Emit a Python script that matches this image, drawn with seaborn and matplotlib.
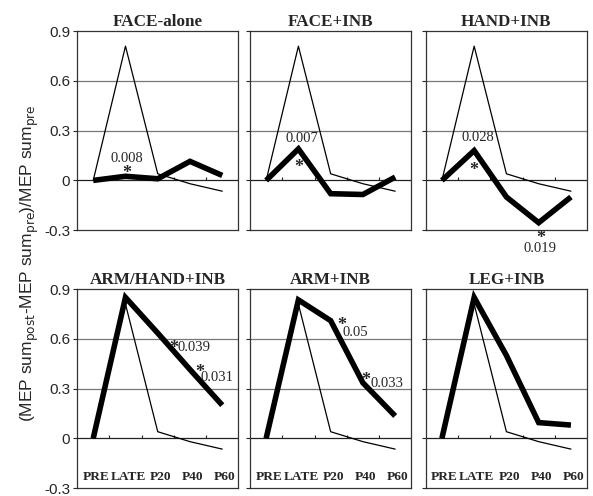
import numpy as np
import pandas as pd
import matplotlib
matplotlib.use("Agg")
import matplotlib.pyplot as plt
import seaborn as sns

# categories and series
times = ["PRE", "LATE", "P20", "P40", "P60"]
panels = ["FACE-alone", "FACE+INB", "HAND+INB", "ARM/HAND+INB", "ARM+INB", "LEG+INB"]
control = [0.0, 0.81, 0.04, -0.02, -0.065]
face_alone = [0.0, 0.025, 0.01, 0.115, 0.03]
face_inb = [0.0, 0.19, -0.08, -0.085, 0.02]
hand_inb = [0.0, 0.18, -0.10, -0.255, -0.10]
armhand_inb = [0.0, 0.85, 0.635, 0.415, 0.20]
arm_inb = [0.0, 0.835, 0.71, 0.335, 0.135]
leg_inb = [0.0, 0.85, 0.50, 0.095, 0.08]
thick = [face_alone, face_inb, hand_inb, armhand_inb, arm_inb, leg_inb]

# significance labels: (panel, star x, star y, label, text x, text y, ha)
notes = [
    (0, 1.05, 0.07, "0.008", 1.05, 0.13, "center"),
    (1, 1.0, 0.11, "0.007", 1.1, 0.25, "center"),
    (2, 1.0, 0.09, "0.028", 1.1, 0.26, "center"),
    (2, 3.05, -0.32, "0.019", 3.05, -0.41, "center"),
    (3, 2.5, 0.57, "0.039", 2.62, 0.55, "left"),
    (3, 3.3, 0.43, "0.031", 3.33, 0.37, "left"),
    (4, 2.33, 0.71, "0.05", 2.38, 0.64, "left"),
    (4, 3.1, 0.38, "0.033", 3.25, 0.33, "left"),
]

rows = []
for name, vals in zip(panels, thick):
    for t, v, c in zip(times, vals, control):
        rows.append({"panel": name, "time": t, "x": times.index(t), "cond": v, "ctrl": c})
df = pd.DataFrame(rows)

sns.set_style("white")
plt.rcParams["font.family"] = ["Liberation Sans", "DejaVu Sans"]
serif = ["Liberation Serif", "DejaVu Serif"]

fig = plt.figure(figsize=(5.93, 4.96), dpi=100)
lefts = [0.130, 0.4216, 0.718]
bottoms = [0.536, 0.016]
w, h = 0.272, 0.401

axes = []
for i, name in enumerate(panels):
    r, c = divmod(i, 3)
    ax = fig.add_axes([lefts[c], bottoms[r], w, h])
    axes.append(ax)
    sub = df[df["panel"] == name]
    for yv in [0.3, 0.6]:
        ax.axhline(yv, color="#777777", lw=0.9, zorder=0)
    ax.axhline(0, color="#222222", lw=0.9, zorder=0)
    # small category-axis ticks at y=0
    ax.vlines([0.5, 1.5, 2.5, 3.5], 0, 0.018, color="#222222", lw=0.8)
    sns.lineplot(data=sub, x="x", y="ctrl", color="black", lw=0.9, ax=ax)
    sns.lineplot(data=sub, x="x", y="cond", color="black", lw=4.0, ax=ax,
                 solid_joinstyle="miter", solid_capstyle="butt")
    ax.set_xlim(-0.5, 4.5)
    ax.set_ylim(-0.3, 0.9)
    ax.set_yticks([-0.3, 0, 0.3, 0.6, 0.9])
    if c == 0:
        ax.set_yticklabels(["-0.3", "0", "0.3", "0.6", "0.9"], fontsize=11)
    else:
        ax.set_yticklabels([])
    ax.tick_params(axis="y", direction="out", length=3, width=0.8, pad=2, left=True)
    ax.set_xticks([])
    ax.set_xlabel("")
    ax.set_ylabel("")
    for s in ax.spines.values():
        s.set_color("#333333")
        s.set_linewidth(0.9)
    ax.set_title(name, fontsize=12.3, fontweight="bold", family=serif, pad=4)
    if r == 1:
        for k, t in enumerate(times):
            ax.text(k + 0.08, -0.235, t, ha="center", va="center", fontsize=9.6,
                    fontweight="bold", family=serif)

# the serif asterisk sits high in its box, so nudge it down
star_shift = 0.03
for p, sx, sy, lab, tx, ty, ha in notes:
    ax = axes[p]
    ax.text(sx, sy - star_shift, "*", ha="center", va="center", fontsize=13,
            fontweight="bold", family=serif, clip_on=False)
    ax.text(tx, ty, lab, ha=ha, va="center", fontsize=10.5, family=serif, clip_on=False)

fig.text(0.05, 0.47,
         r"(MEP sum$_{\mathrm{post}}$-MEP sum$_{\mathrm{pre}}$)/MEP sum$_{\mathrm{pre}}$",
         rotation=90, ha="center", va="center", fontsize=12.5)

fig.savefig("out.png", dpi=100)
